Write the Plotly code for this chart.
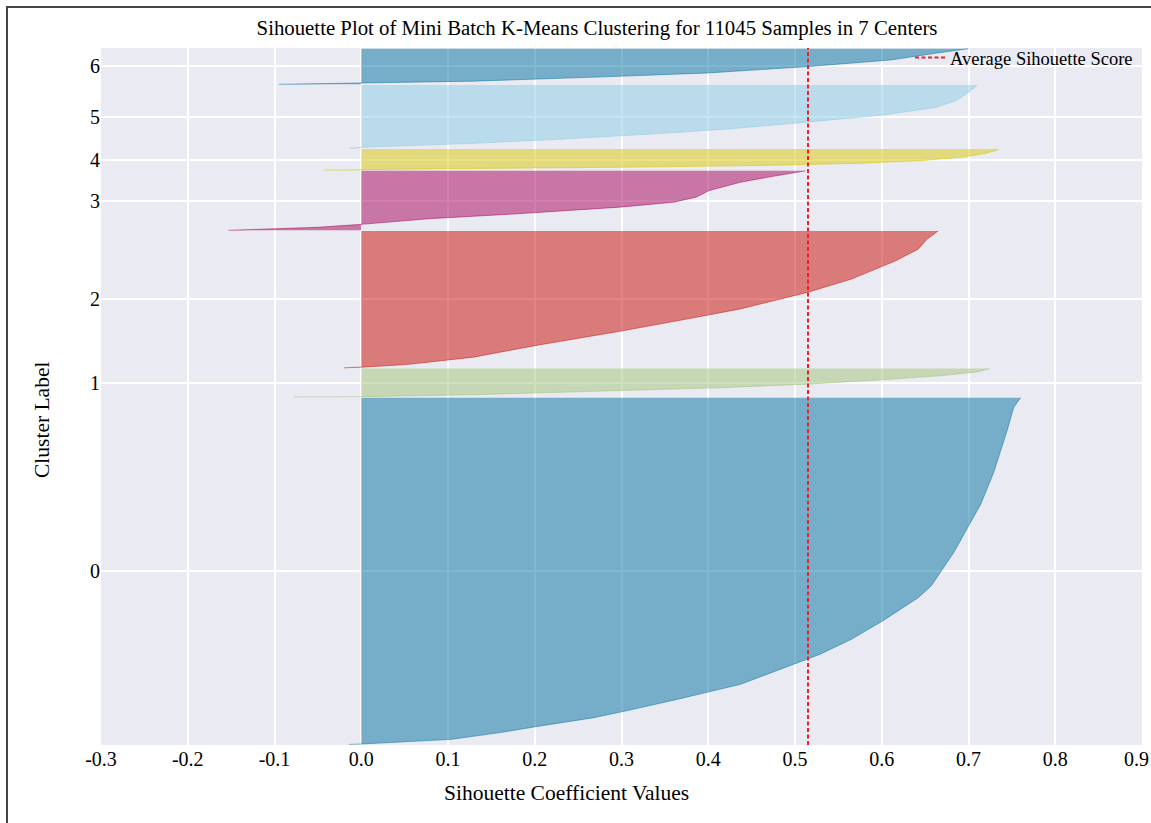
import plotly.graph_objects as go

# Cluster sizes (samples per cluster) and overall mean silhouette score
cluster_sizes = [5535, 455, 2185, 950, 338, 1012, 570]
avg_score = 0.515

# Sorted silhouette profile for each cluster: rank of the sample inside the
# cluster -> silhouette coefficient
c0_rank = [0, 3, 6, 80, 188, 282, 426, 531, 720, 958, 1279, 1439, 1677, 1970,
           2341, 2529, 3061, 3830, 4339, 5031, 5374, 5534]
c0_vals = [-0.014, -0.005, 0.0, 0.104, 0.16, 0.201, 0.268, 0.304, 0.365, 0.437,
           0.498, 0.529, 0.565, 0.601, 0.642, 0.657, 0.683, 0.714, 0.729, 0.745,
           0.752, 0.760]

c1_rank = [0, 2, 5, 36, 91, 150, 205, 273, 341, 400, 454]
c1_vals = [-0.078, -0.03, 0.0, 0.129, 0.283, 0.42, 0.515, 0.6, 0.67, 0.71, 0.725]

c2_rank = [0, 11, 52, 170, 356, 583, 806, 940, 1204, 1416, 1709, 1894, 2052, 2184]
c2_vals = [-0.02, 0.0, 0.052, 0.129, 0.201, 0.298, 0.386, 0.437, 0.514, 0.565,
           0.616, 0.642, 0.652, 0.665]

c3_rank = [0, 19, 48, 95, 185, 264, 370, 449, 529, 634, 767, 846, 949]
c3_vals = [-0.153, -0.10, -0.05, 0.0, 0.078, 0.18, 0.298, 0.36, 0.386, 0.401,
           0.437, 0.468, 0.512]

c4_rank = [0, 7, 14, 24, 47, 74, 108, 152, 210, 270, 314, 337]
c4_vals = [-0.043, -0.01, 0.0, 0.1, 0.3, 0.46, 0.57, 0.645, 0.695, 0.72, 0.732, 0.735]

c5_rank = [0, 8, 16, 80, 148, 228, 307, 414, 530, 653, 759, 891, 1011]
c5_vals = [-0.014, -0.005, 0.0, 0.129, 0.232, 0.334, 0.42, 0.51, 0.6, 0.662,
           0.685, 0.70, 0.71]

c6_rank = [0, 11, 26, 51, 120, 182, 285, 388, 496, 542, 569]
c6_vals = [-0.095, -0.05, 0.0, 0.13, 0.28, 0.40, 0.516, 0.61, 0.662, 0.685, 0.70]

profiles = [(c0_rank, c0_vals), (c1_rank, c1_vals), (c2_rank, c2_vals),
            (c3_rank, c3_vals), (c4_rank, c4_vals), (c5_rank, c5_vals),
            (c6_rank, c6_vals)]

cluster_labels = ["0", "1", "2", "3", "4", "5", "6"]
x_tick_vals = [-0.3, -0.2, -0.1, 0.0, 0.1, 0.2, 0.3, 0.4, 0.5, 0.6, 0.7, 0.8, 0.9]
x_tick_text = ["-0.3", "-0.2", "-0.1", "0.0", "0.1", "0.2", "0.3", "0.4", "0.5",
               "0.6", "0.7", "0.8", "0.9"]

palette = ["2,114,162", "159,195,119", "202,11,3", "165,2,88",
           "215,199,3", "136,204,230"]

FONT = "Liberation Serif, Times New Roman, serif"
GAP = 10

# plot-area geometry in pixels
W, H = 1151, 823
L, R, T, B = 101, 9, 48, 78
PW, PH = W - L - R, H - T - B


def px_x(px):
    return (px - L) / PW


def px_y(py):
    return (H - B - py) / PH


fig = go.Figure()

y_lower = GAP
tick_pos = []
for idx, (size, (ranks, vals)) in enumerate(zip(cluster_sizes, profiles)):
    rgb = palette[idx % len(palette)]
    ys = [y_lower + r for r in ranks]
    fig.add_trace(go.Scatter(
        x=vals, y=ys, mode="lines", fill="tozerox",
        fillcolor=f"rgba({rgb},0.5)",
        line=dict(color=f"rgba({rgb},0.5)", width=1),
        showlegend=False, hoverinfo="skip",
    ))
    tick_pos.append(y_lower + 0.5 * size)
    y_lower += size + GAP

y_max = sum(cluster_sizes) + (len(cluster_sizes) + 1) * GAP

fig.add_trace(go.Scatter(
    x=[avg_score, avg_score], y=[0, y_max], mode="lines",
    line=dict(color="#f0202a", width=2, dash="4px,2.5px"),
    name="Average Sihouette Score",
))

# the last x tick label sits at the right edge of the page; it is drawn as an
# annotation nudged inward so it stays fully visible
edge_label = x_tick_text[-1]
axis_tick_text = x_tick_text[:-1] + [""]

fig.update_layout(
    width=W, height=H,
    margin=dict(l=L, r=R, t=T, b=B, pad=0, autoexpand=False),
    paper_bgcolor="white",
    plot_bgcolor="#EAEAF2",
    font=dict(family=FONT, color="black"),
    title=dict(
        text="Sihouette Plot of Mini Batch K-Means Clustering for 11045 Samples in 7 Centers",
        font=dict(family=FONT, size=20.8, color="black"),
        x=px_x(597), xref="paper", xanchor="center",
        y=1 - 28 / H, yref="container", yanchor="middle",
    ),
    xaxis=dict(
        range=[-0.3, 0.900001], tickvals=x_tick_vals, ticktext=axis_tick_text,
        showgrid=True, gridcolor="white", gridwidth=1.5,
        zeroline=False, showline=False, ticks="", automargin=False,
        tickfont=dict(family=FONT, size=20, color="black"),
    ),
    yaxis=dict(
        range=[0, y_max], tickvals=tick_pos, ticktext=cluster_labels,
        showgrid=True, gridcolor="white", gridwidth=1.5,
        zeroline=False, showline=False, ticks="", automargin=False,
        tickfont=dict(family=FONT, size=20, color="black"),
    ),
    legend=dict(
        x=1 - 4 / PW, xanchor="right", y=1 + 9 / PH, yanchor="top",
        bgcolor="rgba(0,0,0,0)", borderwidth=0,
        font=dict(family=FONT, size=18.5, color="black"),
    ),
    annotations=[
        dict(text=edge_label, xref="x", yref="paper",
             x=x_tick_vals[-1], xshift=-6, y=px_y(759),
             xanchor="center", yanchor="middle", showarrow=False,
             font=dict(family=FONT, size=20, color="black")),
        dict(text="Sihouette Coefficient Values", xref="paper", yref="paper",
             x=px_x(566), y=px_y(793), xanchor="center", yanchor="middle",
             showarrow=False, font=dict(family=FONT, size=21.5, color="black")),
        dict(text="Cluster Label", xref="paper", yref="paper",
             x=px_x(42), y=px_y(420), xanchor="center", yanchor="middle",
             textangle=-90, showarrow=False,
             font=dict(family=FONT, size=21.5, color="black")),
    ],
    shapes=[dict(
        type="rect", xref="paper", yref="paper",
        x0=px_x(7), x1=1.06, y0=-0.2, y1=px_y(7),
        line=dict(color="#444444", width=2), fillcolor="rgba(0,0,0,0)",
        layer="above",
    )],
)

fig.write_html("out.html")
